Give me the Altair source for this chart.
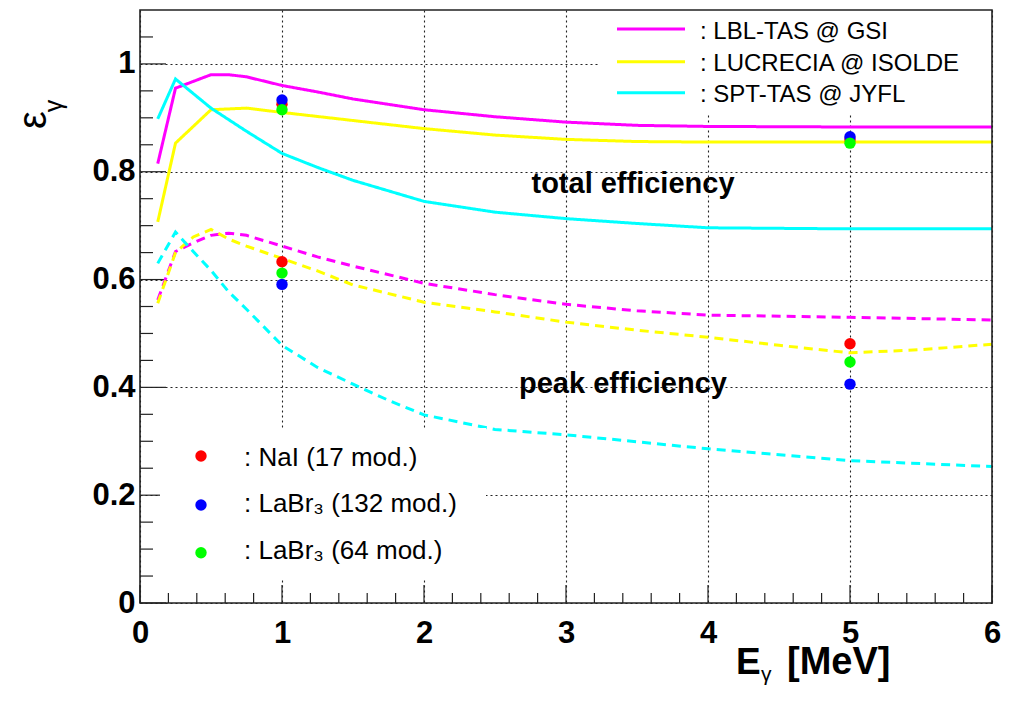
import altair as alt
import pandas as pd

# ---------------- data ----------------
SERIES = ["LBL-TAS @ GSI", "LUCRECIA @ ISOLDE", "SPT-TAS @ JYFL"]
SERIES_COLORS = ["#ff00ff", "#ffff00", "#00ffff"]

# total efficiency (solid)
LBL_TOT_E = [0.125, 0.25, 0.5, 0.625, 0.75, 1.0, 1.25, 1.5, 2.0, 2.5, 3.0, 3.5, 4.0, 5.0, 6.0]
LBL_TOT_V = [0.815, 0.955, 0.980, 0.980, 0.976, 0.960, 0.948, 0.935, 0.915, 0.902, 0.892, 0.886, 0.884, 0.883, 0.883]
LUC_TOT_E = [0.125, 0.25, 0.5, 0.75, 1.0, 1.5, 2.0, 2.5, 3.0, 3.5, 4.0, 5.0, 6.0]
LUC_TOT_V = [0.707, 0.853, 0.915, 0.918, 0.910, 0.895, 0.880, 0.868, 0.860, 0.856, 0.855, 0.855, 0.855]
SPT_TOT_E = [0.125, 0.25, 0.5, 0.75, 1.0, 1.25, 1.5, 2.0, 2.5, 3.0, 3.5, 4.0, 5.0, 6.0]
SPT_TOT_V = [0.898, 0.972, 0.918, 0.875, 0.834, 0.808, 0.784, 0.745, 0.725, 0.713, 0.704, 0.696, 0.694, 0.694]

# peak efficiency (dashed)
LBL_PK_E = [0.125, 0.25, 0.375, 0.5, 0.625, 0.75, 1.0, 1.25, 1.5, 2.0, 2.5, 3.0, 3.5, 4.0, 5.0, 6.0]
LBL_PK_V = [0.562, 0.652, 0.668, 0.682, 0.686, 0.682, 0.662, 0.642, 0.625, 0.593, 0.572, 0.554, 0.542, 0.534, 0.530, 0.525]
LUC_PK_E = [0.125, 0.25, 0.375, 0.5, 0.625, 0.75, 1.0, 1.25, 1.5, 2.0, 2.5, 3.0, 3.5, 4.0, 4.5, 5.0, 5.5, 6.0]
LUC_PK_V = [0.556, 0.650, 0.679, 0.693, 0.675, 0.662, 0.639, 0.616, 0.590, 0.558, 0.540, 0.521, 0.506, 0.493, 0.478, 0.464, 0.470, 0.480]
SPT_PK_E = [0.125, 0.25, 0.375, 0.5, 0.625, 0.75, 1.0, 1.25, 1.5, 1.75, 2.0, 2.5, 3.0, 3.5, 4.0, 5.0, 6.0]
SPT_PK_V = [0.630, 0.688, 0.652, 0.617, 0.577, 0.545, 0.478, 0.437, 0.406, 0.376, 0.349, 0.322, 0.312, 0.299, 0.286, 0.264, 0.253]

# detector simulation points
DETECTORS = ["NaI (17 mod.)", "LaBr₃ (132 mod.)", "LaBr₃ (64 mod.)"]
DET_COLORS = ["#ff0000", "#0000ff", "#00ff00"]
POINT_E = [1, 5]
NAI_TOT = [0.925, 0.860]
LB132_TOT = [0.933, 0.865]
LB64_TOT = [0.915, 0.853]
NAI_PK = [0.633, 0.481]
LB132_PK = [0.591, 0.406]
LB64_PK = [0.612, 0.447]

X_MAJOR = [0, 1, 2, 3, 4, 5, 6]
Y_MAJOR = [0, 0.2, 0.4, 0.6, 0.8, 1.0]
X_MINOR = [round(i * 0.2, 2) for i in range(1, 30) if i % 5 != 0]
Y_MINOR = [round(i * 0.05, 2) for i in range(1, 22) if i % 4 != 0]

# ---------------- tables ----------------
rows = []
for name, kind, es, vs in [
    (SERIES[0], "total", LBL_TOT_E, LBL_TOT_V),
    (SERIES[1], "total", LUC_TOT_E, LUC_TOT_V),
    (SERIES[2], "total", SPT_TOT_E, SPT_TOT_V),
    (SERIES[0], "peak", LBL_PK_E, LBL_PK_V),
    (SERIES[1], "peak", LUC_PK_E, LUC_PK_V),
    (SERIES[2], "peak", SPT_PK_E, SPT_PK_V),
]:
    for e, v in zip(es, vs):
        rows.append({"E": e, "eff": v, "series": name, "kind": kind})
curves = pd.DataFrame(rows)

prow = []
for vals in [(NAI_TOT, LB132_TOT, LB64_TOT), (NAI_PK, LB132_PK, LB64_PK)]:
    for det, arr in zip(DETECTORS, vals):
        for e, v in zip(POINT_E, arr):
            prow.append({"E": e, "eff": v, "series": det})
points = pd.DataFrame(prow)

# ---------------- styling ----------------
W, H = 852, 593
FONT = "Liberation Sans"

X_SCALE = alt.Scale(domain=[0, 6], nice=False, zero=False)
Y_SCALE = alt.Scale(domain=[0, 1.1], nice=False, zero=False)
COLOR_SCALE = alt.Scale(domain=SERIES + DETECTORS, range=SERIES_COLORS + DET_COLORS)

common_axis = dict(
    title=None, grid=True, gridDash=[2, 3], gridColor="#222222", gridWidth=1.1, gridOpacity=1,
    ticks=False, tickSize=0, domain=False, labelFont=FONT, labelFontSize=31,
    labelFontWeight="bold", labelColor="black", labelFlush=False, labelOverlap=False,
    format="~g",
)
X_AXIS = alt.Axis(values=X_MAJOR, labelPadding=15, **common_axis)
Y_AXIS = alt.Axis(values=Y_MAJOR, labelPadding=5, **common_axis)


def X(field):
    return alt.X(field, scale=X_SCALE, axis=X_AXIS)


def Y(field):
    return alt.Y(field, scale=Y_SCALE, axis=Y_AXIS)


ONE = pd.DataFrame({"k": [0]})

layers = []

# ticks (inside the frame)
layers.append(alt.Chart(pd.DataFrame({"v": X_MAJOR})).mark_rule(color="#222222", strokeWidth=1.2)
              .encode(x=X("v:Q"), y=alt.value(H), y2=alt.value(H - 18)))
layers.append(alt.Chart(pd.DataFrame({"v": X_MINOR})).mark_rule(color="#222222", strokeWidth=1.2)
              .encode(x=X("v:Q"), y=alt.value(H), y2=alt.value(H - 10)))
layers.append(alt.Chart(pd.DataFrame({"v": Y_MAJOR})).mark_rule(color="#222222", strokeWidth=1.2)
              .encode(y=Y("v:Q"), x=alt.value(0), x2=alt.value(26)))
layers.append(alt.Chart(pd.DataFrame({"v": Y_MINOR})).mark_rule(color="#222222", strokeWidth=1.2)
              .encode(y=Y("v:Q"), x=alt.value(0), x2=alt.value(13)))

# curves
layers.append(
    alt.Chart(curves).mark_line(strokeWidth=3, clip=True).encode(
        x=X("E:Q"),
        y=Y("eff:Q"),
        color=alt.Color("series:N", scale=COLOR_SCALE, legend=None),
        strokeDash=alt.StrokeDash("kind:N", scale=alt.Scale(domain=["total", "peak"], range=[[1, 0], [9, 6]]), legend=None),
    )
)

# points
layers.append(
    alt.Chart(points).mark_point(filled=True, shape="circle", size=130, opacity=1).encode(
        x=X("E:Q"),
        y=Y("eff:Q"),
        color=alt.Color("series:N", scale=COLOR_SCALE, legend=None),
    )
)

# annotations
layers.append(alt.Chart(ONE).mark_text(font=FONT, fontSize=29, fontWeight="bold", align="center",
                                       baseline="alphabetic", color="black")
              .encode(x=alt.value(493), y=alt.value(183), text=alt.value("total efficiency")))
layers.append(alt.Chart(ONE).mark_text(font=FONT, fontSize=29, fontWeight="bold", align="center",
                                       baseline="alphabetic", color="black")
              .encode(x=alt.value(483), y=alt.value(383), text=alt.value("peak efficiency")))

# legend boxes (white, cover grid)
layers.append(alt.Chart(ONE).mark_rect(color="white")
              .encode(x=alt.value(459), x2=alt.value(W), y=alt.value(0), y2=alt.value(103)))
layers.append(alt.Chart(ONE).mark_rect(color="white")
              .encode(x=alt.value(20), x2=alt.value(346), y=alt.value(418), y2=alt.value(568)))

# top legend
for i, (name, col) in enumerate(zip(SERIES, SERIES_COLORS)):
    yl = [19, 51.7, 82.7][i]
    yt = [29, 61, 91.7][i]
    layers.append(alt.Chart(ONE).mark_rule(color=col, strokeWidth=3)
                  .encode(x=alt.value(477), x2=alt.value(545), y=alt.value(yl)))
    layers.append(alt.Chart(ONE).mark_text(font=FONT, fontSize=24, align="left", baseline="alphabetic", color="black")
                  .encode(x=alt.value(560), y=alt.value(yt), text=alt.value(": " + name)))

# bottom legend
for i, (name, col) in enumerate(zip(DETECTORS, DET_COLORS)):
    ym = [446, 495, 542.7][i]
    yt = [455.7, 501.7, 549.3][i]
    layers.append(alt.Chart(ONE).mark_point(filled=True, shape="circle", size=130, color=col, opacity=1)
                  .encode(x=alt.value(61), y=alt.value(ym)))
    layers.append(alt.Chart(ONE).mark_text(font=FONT, fontSize=26, align="left", baseline="alphabetic", color="black")
                  .encode(x=alt.value(104), y=alt.value(yt), text=alt.value(": " + name)))

# axis titles
layers.append(alt.Chart(ONE).mark_text(font=FONT, fontSize=37, fontWeight="bold", align="left",
                                       baseline="alphabetic", color="black")
              .encode(x=alt.value(596), y=alt.value(664), text=alt.value("E")))
layers.append(alt.Chart(ONE).mark_text(font=FONT, fontSize=21, align="left", baseline="alphabetic", color="black")
              .encode(x=alt.value(621), y=alt.value(671), text=alt.value("γ")))
layers.append(alt.Chart(ONE).mark_text(font=FONT, fontSize=38, fontWeight="bold", align="left",
                                       baseline="alphabetic", color="black")
              .encode(x=alt.value(647), y=alt.value(664), text=alt.value("[MeV]")))
layers.append(alt.Chart(ONE).mark_text(font=FONT, fontSize=40, angle=270, align="center",
                                       baseline="middle", color="black")
              .encode(x=alt.value(-106), y=alt.value(110), text=alt.value("ε")))
layers.append(alt.Chart(ONE).mark_text(font=FONT, fontSize=25, angle=270, align="center",
                                       baseline="middle", color="black")
              .encode(x=alt.value(-86), y=alt.value(96), text=alt.value("γ")))

# frame
layers.append(alt.Chart(ONE).mark_rect(fillOpacity=0, stroke="#222222", strokeWidth=1.6)
              .encode(x=alt.value(0), x2=alt.value(W), y=alt.value(0), y2=alt.value(H)))

chart = alt.layer(*layers).properties(
    width=W,
    height=H,
    padding={"left": 132, "top": 2, "right": 10, "bottom": 100},
    autosize=alt.AutoSizeParams(type="none"),
    background="white",
).configure_view(stroke=None)

chart.save("out.html", embed_options={"renderer": "svg", "actions": False})
